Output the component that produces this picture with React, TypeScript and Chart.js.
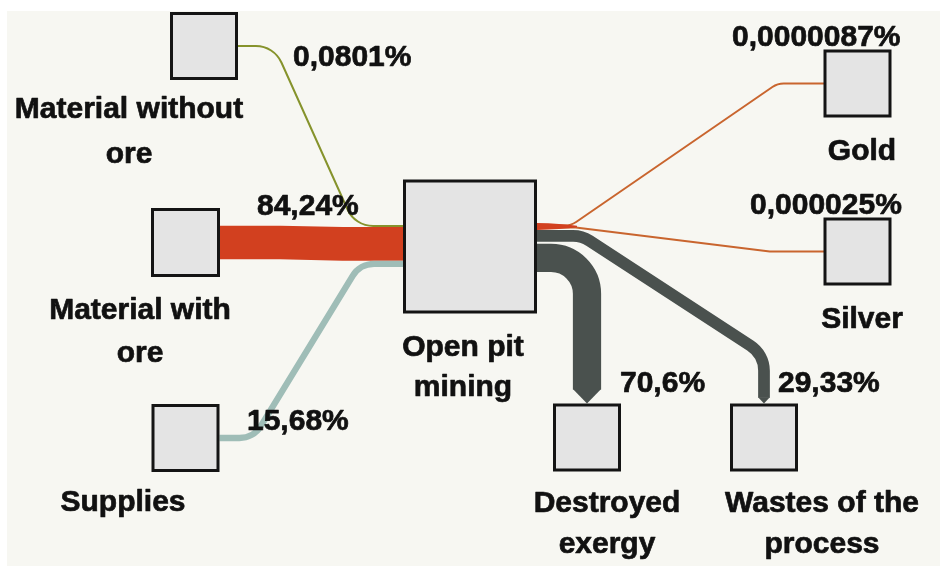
import React, { useEffect, useRef } from "react";
import { Chart, registerables } from "chart.js";

Chart.register(...registerables);

// ---------------- data ----------------
const nodeIds = ["mwo", "mwith", "sup", "pit", "gold", "silver", "destroyed", "wastes"];
const nodeLabels = [
  ["Material without", "ore"],
  ["Material with", "ore"],
  ["Supplies"],
  ["Open pit", "mining"],
  ["Gold"],
  ["Silver"],
  ["Destroyed", "exergy"],
  ["Wastes of the", "process"],
];
const flowSources = ["mwo", "mwith", "sup", "pit", "pit", "pit", "pit"];
const flowTargets = ["pit", "pit", "pit", "gold", "silver", "wastes", "destroyed"];
const flowValues = [0.0801, 84.24, 15.68, 0.0000087, 0.000025, 29.33, 70.6];
const flowLabels = ["0,0801%", "84,24%", "15,68%", "0,0000087%", "0,000025%", "29,33%", "70,6%"];

// ---------------- layout (positions / sizes / styles) ----------------
const CANVAS_W = 940;
const CANVAS_H = 568;
const PANEL = { x0: 7, y0: 11, x1: 940, y1: 566, color: "#f7f7f2" };
const PCT_TO_WIDTH = 0.4;
const MIN_WIDTH = 2;
const OUT_GAP = 2;
const STUB_W = 7;
const STUB_LEN = 40;
const BORDER = 3;
const FONT = 'bold 30px "Liberation Sans", Arial, sans-serif';
const TEXT_COLOR = "#111111";

const NODE_LAYOUT: any = {
  mwo: { cx: 204, cy: 46, s: 68 },
  mwith: { cx: 185.5, cy: 242.5, s: 69 },
  sup: { cx: 185.5, cy: 438, s: 68 },
  pit: { cx: 470, cy: 246.5, s: 134, inTop: 225, outTop: 223 },
  gold: { cx: 857.5, cy: 83.5, s: 68 },
  silver: { cx: 857.5, cy: 251.5, s: 68 },
  destroyed: { cx: 587, cy: 437.5, s: 68 },
  wastes: { cx: 764, cy: 437.5, s: 68 },
};

const NODE_LABEL_POS: any = {
  mwo: { x: 129, ys: [118, 163] },
  mwith: { x: 140, ys: [319, 362] },
  sup: { x: 123, ys: [511] },
  pit: { x: 463, ys: [356, 396] },
  gold: { x: 862, ys: [160] },
  silver: { x: 862, ys: [328] },
  destroyed: { x: 607, ys: [512, 553] },
  wastes: { x: 822, ys: [512, 553] },
};

const LINK_ROUTE: any[] = [
  { kind: "h", out: 36, inn: 48, r: 28, color: "#86932c" },
  { kind: "h", out: 60, inn: 60, r: 20, color: "#d2401f" },
  { kind: "h", out: 34, inn: 43, r: 25, color: "#9fbdb7" },
  { kind: "h", out: 34, inn: 46, r: 20, color: "#c9652e" },
  { kind: "h", out: 38, inn: 53, r: 12, color: "#c9652e" },
  { kind: "down", run: 45, drop: 49, r: 30, color: "#4a514e" },
  { kind: "down", run: null, drop: null, r: 36, color: "#4a514e" },
];
const STUB_COLOR = "#d2401f";

const LINK_LABEL_POS = [
  { x: 293, y: 66 },
  { x: 257, y: 215 },
  { x: 247, y: 430 },
  { x: 732, y: 46 },
  { x: 750, y: 214 },
  { x: 778, y: 392 },
  { x: 620, y: 392 },
];

// ---------------- geometry ----------------
function computeLinks() {
  const inCursor: any = {};
  const outCursor: any = {};
  const stubs: any = {};
  const links: any[] = [];
  flowValues.forEach((v, i) => {
    const s = flowSources[i];
    const t = flowTargets[i];
    const src = NODE_LAYOUT[s];
    const tgt = NODE_LAYOUT[t];
    const raw = v * PCT_TO_WIDTH;
    const thin = raw < MIN_WIDTH;
    const w = Math.max(raw, MIN_WIDTH);
    const route = LINK_ROUTE[i];
    const sx = src.cx + src.s / 2;
    let sy = src.cy;
    if (src.outTop !== undefined) {
      if (outCursor[s] === undefined) outCursor[s] = src.outTop;
      if (thin) {
        if (!stubs[s]) {
          stubs[s] = { x: sx, top: outCursor[s], count: 0 };
          outCursor[s] += STUB_W;
        }
        const st = stubs[s];
        sy = st.top + STUB_W / 2 - 1 + st.count * 2;
        st.count++;
      } else {
        sy = outCursor[s] + w / 2;
        outCursor[s] += w + OUT_GAP;
      }
    }
    let pts: any[] = [];
    let tip: any = null;
    if (route.kind === "h") {
      const tx = tgt.cx - tgt.s / 2;
      let ty = tgt.cy;
      if (tgt.inTop !== undefined) {
        if (inCursor[t] === undefined) inCursor[t] = tgt.inTop;
        ty = inCursor[t] + w / 2;
        inCursor[t] += w;
      }
      pts = [
        { x: sx, y: sy },
        { x: sx + route.out, y: sy },
        { x: tx - route.inn, y: ty },
        { x: tx + 4, y: ty },
      ];
    } else {
      const ttop = tgt.cy - tgt.s / 2;
      const tcx = tgt.cx;
      const endY = ttop - w / 2;
      if (route.run === null) {
        pts = [
          { x: sx, y: sy },
          { x: tcx, y: sy },
          { x: tcx, y: endY },
        ];
      } else {
        pts = [
          { x: sx, y: sy },
          { x: sx + route.run, y: sy },
          { x: tcx, y: ttop - route.drop },
          { x: tcx, y: endY },
        ];
      }
      tip = { cx: tcx, y0: endY, y1: ttop, hw: w / 2 };
    }
    links.push({ pts, w, tip, route, thin });
  });
  return { links, stubs };
}

function strokeRoute(ctx: any, pts: any[], r: number) {
  ctx.beginPath();
  ctx.moveTo(pts[0].x, pts[0].y);
  for (let i = 1; i < pts.length - 1; i++) {
    ctx.arcTo(pts[i].x, pts[i].y, pts[i + 1].x, pts[i + 1].y, r);
  }
  ctx.lineTo(pts[pts.length - 1].x, pts[pts.length - 1].y);
  ctx.stroke();
}

const sankeyPlugin = {
  id: "sankeyDraw",
  beforeDraw(chart: any) {
    const { ctx } = chart;
    const xs = chart.scales.x;
    const ys = chart.scales.y;
    ctx.save();
    ctx.fillStyle = "#ffffff";
    ctx.fillRect(0, 0, chart.width, chart.height);
    const x0 = xs.getPixelForValue(PANEL.x0);
    const x1 = xs.getPixelForValue(PANEL.x1);
    const y0 = ys.getPixelForValue(PANEL.y0);
    const y1 = ys.getPixelForValue(PANEL.y1);
    ctx.fillStyle = PANEL.color;
    ctx.fillRect(x0, y0, x1 - x0, y1 - y0);
    ctx.restore();
  },
  beforeDatasetsDraw(chart: any) {
    const { ctx } = chart;
    const xs = chart.scales.x;
    const ys = chart.scales.y;
    const P = (p: any) => ({ x: xs.getPixelForValue(p.x), y: ys.getPixelForValue(p.y) });
    const unit = Math.abs(ys.getPixelForValue(1) - ys.getPixelForValue(0));
    const { links, stubs } = computeLinks();
    ctx.save();
    links.forEach((l: any) => {
      ctx.strokeStyle = l.route.color;
      ctx.fillStyle = l.route.color;
      ctx.lineWidth = l.w * unit;
      ctx.lineCap = "butt";
      ctx.lineJoin = "round";
      strokeRoute(ctx, l.pts.map(P), l.route.r * unit);
      if (l.tip) {
        const a = P({ x: l.tip.cx - l.tip.hw, y: l.tip.y0 });
        const b = P({ x: l.tip.cx + l.tip.hw, y: l.tip.y0 });
        const c = P({ x: l.tip.cx, y: l.tip.y1 });
        ctx.beginPath();
        ctx.moveTo(a.x, a.y - 0.5);
        ctx.lineTo(b.x, b.y - 0.5);
        ctx.lineTo(c.x, c.y);
        ctx.closePath();
        ctx.fill();
      }
    });
    Object.keys(stubs).forEach((k) => {
      const st = stubs[k];
      const mid = st.top + STUB_W / 2;
      const p0 = P({ x: st.x, y: st.top });
      const c1 = P({ x: st.x + STUB_LEN * 0.6, y: st.top + 0.5 });
      const p1 = P({ x: st.x + STUB_LEN, y: mid - 0.8 });
      const p2 = P({ x: st.x + STUB_LEN, y: mid + 0.8 });
      const c2 = P({ x: st.x + STUB_LEN * 0.6, y: st.top + STUB_W - 0.5 });
      const p3 = P({ x: st.x, y: st.top + STUB_W });
      ctx.fillStyle = STUB_COLOR;
      ctx.beginPath();
      ctx.moveTo(p0.x, p0.y);
      ctx.quadraticCurveTo(c1.x, c1.y, p1.x, p1.y);
      ctx.lineTo(p2.x, p2.y);
      ctx.quadraticCurveTo(c2.x, c2.y, p3.x, p3.y);
      ctx.closePath();
      ctx.fill();
    });
    ctx.restore();
  },
  afterDatasetsDraw(chart: any) {
    const { ctx } = chart;
    const xs = chart.scales.x;
    const ys = chart.scales.y;
    ctx.save();
    ctx.font = FONT;
    ctx.fillStyle = TEXT_COLOR;
    ctx.strokeStyle = TEXT_COLOR;
    ctx.lineWidth = 0.7;
    ctx.lineJoin = "round";
    ctx.textBaseline = "alphabetic";
    const put = (txt: string, x: number, y: number) => {
      const px = xs.getPixelForValue(x);
      const py = ys.getPixelForValue(y);
      ctx.fillText(txt, px, py);
      ctx.strokeText(txt, px, py);
    };
    ctx.textAlign = "center";
    nodeIds.forEach((id, i) => {
      const pos = NODE_LABEL_POS[id];
      nodeLabels[i].forEach((line, j) => put(line, pos.x, pos.ys[j]));
    });
    ctx.textAlign = "left";
    flowLabels.forEach((lab, i) => {
      const pos = LINK_LABEL_POS[i];
      put(lab, pos.x, pos.y);
    });
    ctx.restore();
  },
};

export default function App() {
  const ref = useRef<HTMLCanvasElement | null>(null);
  useEffect(() => {
    document.body.style.margin = "0";
    document.body.style.overflow = "hidden";
    const canvas = ref.current as HTMLCanvasElement;
    const chart = new Chart(canvas, {
      type: "scatter",
      data: {
        datasets: [
          {
            label: "nodes",
            data: nodeIds.map((id) => ({ x: NODE_LAYOUT[id].cx, y: NODE_LAYOUT[id].cy })),
            pointStyle: "rect",
            pointRadius: nodeIds.map((id) => (NODE_LAYOUT[id].s - BORDER) / Math.SQRT2),
            pointHoverRadius: nodeIds.map((id) => (NODE_LAYOUT[id].s - BORDER) / Math.SQRT2),
            pointBackgroundColor: "#e4e4e4",
            pointBorderColor: "#141414",
            pointBorderWidth: BORDER,
            pointHoverBorderWidth: BORDER,
            showLine: false,
            clip: false as any,
          },
        ],
      },
      options: {
        animation: false,
        responsive: false,
        devicePixelRatio: 1,
        events: [],
        layout: { padding: 0, autoPadding: false },
        plugins: { legend: { display: false }, tooltip: { enabled: false } },
        scales: {
          x: { type: "linear", min: 0, max: CANVAS_W, display: false },
          y: { type: "linear", min: 0, max: CANVAS_H, reverse: true, display: false },
        },
      },
      plugins: [sankeyPlugin],
    });
    return () => chart.destroy();
  }, []);
  return (
    <div style={{ width: CANVAS_W, height: CANVAS_H }}>
      <canvas ref={ref} width={CANVAS_W} height={CANVAS_H} style={{ display: "block" }} />
    </div>
  );
}
